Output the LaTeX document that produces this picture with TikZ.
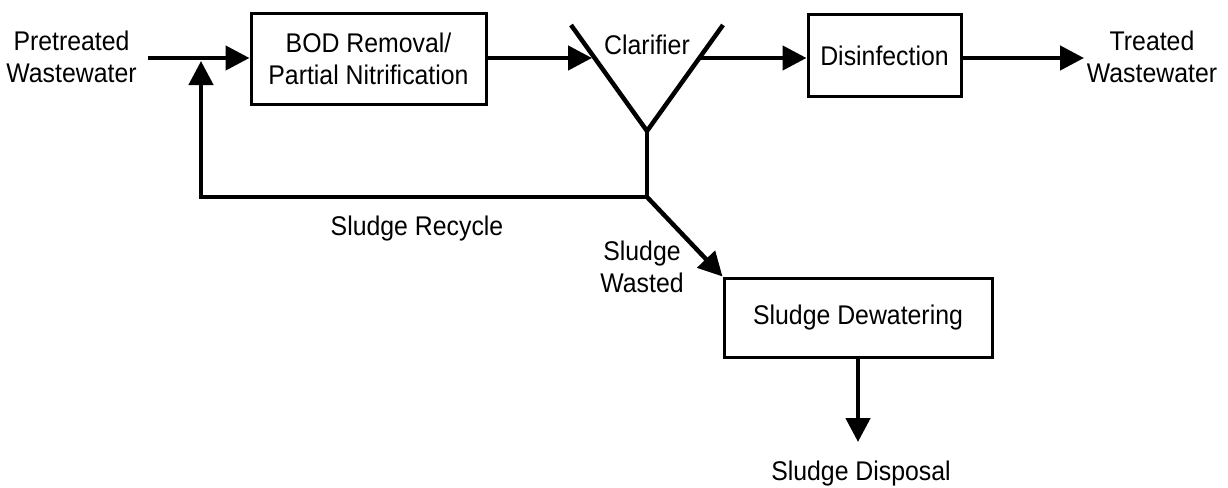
\documentclass[tikz,border=0pt]{standalone}
\usepackage{fontspec}
\setmainfont[FakeStretch=0.92]{Liberation Sans}
\usetikzlibrary{arrows.meta}
\begin{document}
\begin{tikzpicture}[x=1pt,y=-1pt,
  lbl/.style={font=\fontsize{27}{32}\selectfont, inner sep=0pt, align=center},
  proc/.style={draw, line width=3pt, rectangle, inner sep=0pt, font=\fontsize{27}{32}\selectfont, align=center},
  flow/.style={line width=4.5pt, -{Triangle[length=24pt,width=24pt]}},
  pipe/.style={line width=4.5pt},
]
\useasboundingbox (0,0) rectangle (1228,487);
\node[proc, minimum width=235pt, minimum height=90pt] (bod) at (368.5,59) {BOD Removal/\\Partial Nitrification};
\node[proc, minimum width=153pt, minimum height=81pt] (dis) at (884.5,55.5) {Disinfection};
\node[proc, minimum width=268pt, minimum height=79pt] (sdw) at (858,317.5) {Sludge Dewatering};
\node[lbl] (pre) at (71.5,56.5) {Pretreated\\Wastewater};
\node[lbl] (tw) at (1152,56.5) {Treated\\Wastewater};
\node[lbl, anchor=base] (clt) at (647,55) {Clarifier};
\node[lbl, anchor=base] (rec) at (417,235) {Sludge Recycle};
\node[lbl] (was) at (642,266.5) {Sludge\\Wasted};
\node[lbl, anchor=base] (dsp) at (861,480) {Sludge Disposal};
\coordinate (pin) at (148,58);
\coordinate (clL) at (571,25);
\coordinate (clV) at (647,131);
\coordinate (clR) at (723,25);
\coordinate (clB) at (647,197);
\coordinate (cin) at (592,58);
\coordinate (cout) at (700,58);
\coordinate (rc) at (201,197);
\coordinate (rtip) at (201,61);
\coordinate (tout) at (1084,58);
\coordinate (dtip) at (857,442);
\draw[flow] (pin) -- (pin -| bod.west);
\draw[flow] (bod.east |- cin) -- (cin);
\draw[pipe] (clL) -- (clV) -- (clR);
\draw[pipe] (clV) -- (clB);
\draw[flow] (cout) -- (cout -| dis.west);
\draw[flow] (dis.east |- tout) -- (tout);
\draw[flow] (clB) -- (rc) -- (rtip);
\draw[flow] (clB) -- (sdw.north west);
\draw[flow] (sdw.south) -- (sdw.south |- dtip);
\end{tikzpicture}
\end{document}
